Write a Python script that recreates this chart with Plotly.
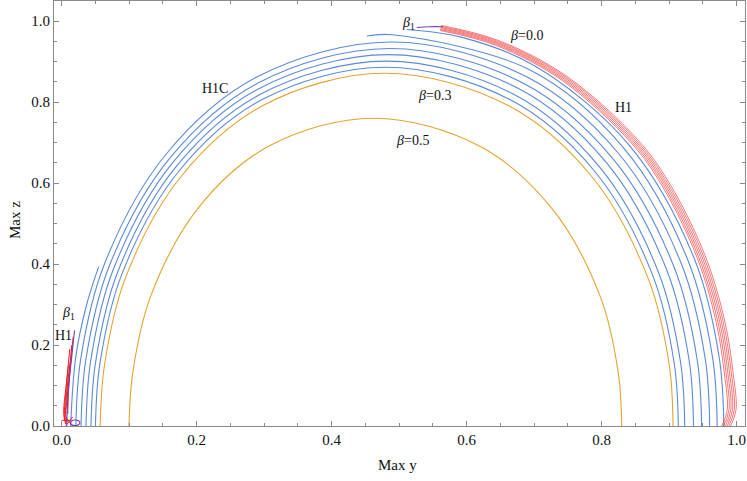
import plotly.graph_objects as go

# ---------------- data ----------------
# orange contours
beta05_x = [0.0997, 0.1053, 0.1320, 0.2030, 0.3080, 0.4620, 0.6180, 0.7250, 0.7975, 0.8245, 0.8296]
beta05_z = [0, 0.1319, 0.3212, 0.5400, 0.6920, 0.760, 0.6920, 0.5400, 0.3212, 0.1319, 0]
beta03_x = [0.057, 0.0635, 0.0950, 0.1780, 0.2995, 0.4780, 0.6600, 0.7840, 0.8680, 0.9000, 0.9057]
beta03_z = [0, 0.1512, 0.3681, 0.6185, 0.7925, 0.871, 0.7925, 0.6185, 0.3681, 0.1512, 0]

# blue contours (full arcs)
blue1_x = [0.050, 0.0566, 0.0890, 0.1735, 0.2970, 0.4790, 0.6640, 0.7895, 0.8750, 0.9075, 0.9135]
blue1_z = [0, 0.1538, 0.3744, 0.6290, 0.8060, 0.886, 0.8060, 0.6290, 0.3744, 0.1538, 0]
blue2_x = [0.0434, 0.0501, 0.0831, 0.1692, 0.2950, 0.4805, 0.6690, 0.7967, 0.8838, 0.9169, 0.923]
blue2_z = [0, 0.1564, 0.3808, 0.6396, 0.8196, 0.901, 0.8196, 0.6396, 0.3808, 0.1564, 0]
blue3_x = [0.036, 0.0428, 0.0767, 0.1648, 0.2935, 0.4835, 0.6760, 0.8067, 0.8958, 0.9298, 0.936]
blue3_z = [0, 0.1592, 0.3875, 0.6509, 0.8341, 0.917, 0.8341, 0.6509, 0.3875, 0.1592, 0]
blue4_x = [0.0286, 0.0356, 0.0702, 0.1602, 0.2917, 0.4858, 0.6825, 0.8159, 0.9069, 0.9416, 0.948]
blue4_z = [0, 0.1618, 0.3939, 0.6615, 0.8477, 0.932, 0.8477, 0.6615, 0.3939, 0.1618, 0]
blue5_x = [0.021, 0.0281, 0.0635, 0.1555, 0.2898, 0.4880, 0.6888, 0.8250, 0.9180, 0.9535, 0.960]
blue5_z = [0, 0.1646, 0.4006, 0.6728, 0.8622, 0.948, 0.8622, 0.6728, 0.4006, 0.1646, 0]

# blue contours (broken arcs)
blue6a_x = [0.0133, 0.0206, 0.037, 0.0547]
blue6a_z = [0, 0.1677, 0.30, 0.393]
blue6b_x = [0.452, 0.4900, 0.6946, 0.8330, 0.9280, 0.9644, 0.9711]
blue6b_z = [0.963, 0.966, 0.8785, 0.6856, 0.4082, 0.1677, 0]
blue7_x = [0.511, 0.5916, 0.6999, 0.8400, 0.9370, 0.9740, 0.981]
blue7_z = [0.979, 0.9602, 0.8900, 0.6950, 0.4141, 0.1701, 0]

# red H1 bundle on the right
red1_x = [0.5606, 0.6437, 0.7415, 0.8440, 0.8895, 0.9412, 0.9698, 0.9818, 0.986, 0.978]
red1_z = [0.9766, 0.9396, 0.8530, 0.6985, 0.5930, 0.4163, 0.2549, 0.1285, 0.04, 0]
red2_x = [0.5609, 0.6445, 0.7428, 0.8458, 0.8916, 0.9435, 0.9723, 0.9844, 0.9886, 0.9806]
red2_z = [0.9791, 0.9420, 0.8552, 0.7003, 0.5945, 0.4173, 0.2556, 0.1289, 0.04, 0]
red3_x = [0.5612, 0.6453, 0.7441, 0.8477, 0.8937, 0.9459, 0.9749, 0.9870, 0.9912, 0.9832]
red3_z = [0.9816, 0.9444, 0.8573, 0.7020, 0.5960, 0.4184, 0.2562, 0.1292, 0.04, 0]
red4_x = [0.5616, 0.6460, 0.7454, 0.8495, 0.8957, 0.9482, 0.9774, 0.9895, 0.9938, 0.9858]
red4_z = [0.9841, 0.9467, 0.8595, 0.7038, 0.5975, 0.4194, 0.2569, 0.1295, 0.04, 0]
red5_x = [0.5619, 0.6468, 0.7467, 0.8513, 0.8978, 0.9506, 0.9799, 0.9921, 0.9964, 0.9884]
red5_z = [0.9866, 0.9491, 0.8617, 0.7056, 0.5990, 0.4205, 0.2575, 0.1298, 0.04, 0]
red6_x = [0.5623, 0.6476, 0.7480, 0.8532, 0.8999, 0.9530, 0.9824, 0.9947, 0.999, 0.991]
red6_z = [0.9890, 0.9515, 0.8638, 0.7073, 0.6005, 0.4215, 0.2582, 0.1302, 0.04, 0]

# red H1 pieces on the left
redL1_x = [0.012, 0.008, 0.005, 0.004, 0.006]
redL1_z = [0.19, 0.12, 0.06, 0.02, 0.005]
redL2_x = [0.015, 0.011, 0.008, 0.006, 0.008]
redL2_z = [0.20, 0.13, 0.07, 0.03, 0.01]
redL3_x = [0.010, 0.006, 0.003, 0.004]
redL3_z = [0.15, 0.09, 0.04, 0.015]
redL4_x = [0.017, 0.013, 0.010, 0.009]
redL4_z = [0.22, 0.15, 0.08, 0.03]
redL5_x = [0.014, 0.009, 0.006, 0.005, 0.007]
redL5_z = [0.17, 0.11, 0.05, 0.02, 0.004]
redH_x = [0.0, 0.013]
redH_z = [0.014, 0.014]
redXa_x = [0.006, 0.016]
redXa_z = [0.022, 0.0]
redXb_x = [0.006, 0.016]
redXb_z = [0.0, 0.022]

# purple beta_1 pieces
purpL_x = [0.0074, 0.0098, 0.0148, 0.019]
purpL_z = [0, 0.09, 0.17, 0.236]
purpLoop_x = [0.013, 0.015, 0.020, 0.025, 0.027, 0.025, 0.020, 0.015, 0.013]
purpLoop_z = [0.008, 0.013, 0.015, 0.013, 0.008, 0.003, 0.001, 0.003, 0.008]
purpT_x = [0.526, 0.545, 0.565]
purpT_z = [0.984, 0.986, 0.986]

# text labels
label_text = ["H1C", "<i>β</i>=0.3", "<i>β</i>=0.5", "<i>β</i>=0.0", "H1",
              "<i>β</i><sub>1</sub>", "<i>β</i><sub>1</sub>", "H1"]
label_x = [0.227, 0.553, 0.520, 0.689, 0.832, 0.514, 0.0098, 0.0024]
label_z = [0.833, 0.8165, 0.705, 0.9646, 0.786, 0.9936, 0.2775, 0.224]

x_ticks = [0.0, 0.2, 0.4, 0.6, 0.8, 1.0]
z_ticks = [0.0, 0.2, 0.4, 0.6, 0.8, 1.0]

# ---------------- styling ----------------
BLUE = "#5b8bd6"
ORANGE = "#e3a42f"
RED = "rgb(238,30,30)"
PURPLE = "#7a3fb0"
SERIF = "Liberation Serif"

fig = go.Figure()

def add(x, z, color, width=1.1, shape="spline"):
    fig.add_trace(go.Scatter(x=x, y=z, mode="lines",
                             line=dict(color=color, width=width, shape=shape),
                             hoverinfo="skip", showlegend=False))

add(beta05_x, beta05_z, ORANGE)
add(beta03_x, beta03_z, ORANGE)
for bx, bz in [(blue1_x, blue1_z), (blue2_x, blue2_z), (blue3_x, blue3_z),
               (blue4_x, blue4_z), (blue5_x, blue5_z), (blue6a_x, blue6a_z),
               (blue6b_x, blue6b_z), (blue7_x, blue7_z)]:
    add(bx, bz, BLUE)
for rx, rz in [(red1_x, red1_z), (red2_x, red2_z), (red3_x, red3_z),
               (red4_x, red4_z), (red5_x, red5_z), (red6_x, red6_z)]:
    add(rx, rz, RED, width=0.6)
for rx, rz in [(redL1_x, redL1_z), (redL2_x, redL2_z), (redL3_x, redL3_z),
               (redL4_x, redL4_z), (redL5_x, redL5_z)]:
    add(rx, rz, RED, width=1.0)
for rx, rz in [(redH_x, redH_z), (redXa_x, redXa_z), (redXb_x, redXb_z)]:
    add(rx, rz, RED, width=1.0, shape="linear")
add(purpL_x, purpL_z, PURPLE)
add(purpLoop_x, purpLoop_z, PURPLE)
add(purpT_x, purpT_z, PURPLE)

for t, x, z in zip(label_text, label_x, label_z):
    fig.add_annotation(x=x, y=z, text=t, showarrow=False,
                       font=dict(family=SERIF, size=14, color="#111"))

# axis titles placed as paper annotations (plot area spans px 54..745, 1..426)
fig.add_annotation(xref="paper", yref="paper", x=0.4978, y=-0.0918, text="Max y",
                   xanchor="center", yanchor="middle",
                   showarrow=False, font=dict(family=SERIF, size=15, color="#111"))
fig.add_annotation(xref="paper", yref="paper", x=-0.0564, y=0.4847, text="Max z",
                   xanchor="center", yanchor="middle",
                   textangle=-90, showarrow=False, font=dict(family=SERIF, size=15, color="#111"))

axis_common = dict(showgrid=False, zeroline=False, showline=True, linecolor="#8a8a8a",
                   linewidth=1, mirror="ticks", ticks="inside", ticklen=5,
                   tickcolor="#8a8a8a", tickwidth=1, automargin=False,
                   ticklabeloverflow="allow",
                   minor=dict(dtick=0.05, ticks="inside", ticklen=3, tickcolor="#8a8a8a", tickwidth=1),
                   tickfont=dict(family=SERIF, size=15, color="#111"),
                   tickformat=".1f")

fig.update_xaxes(range=[-0.0114, 1.0123], tickvals=x_ticks, **axis_common)
fig.update_yaxes(range=[0, 1.0494], tickvals=z_ticks, **axis_common)

fig.update_layout(width=747, height=481, margin=dict(l=54, r=2, t=1, b=55, autoexpand=False),
                  plot_bgcolor="white", paper_bgcolor="white", showlegend=False)

fig.write_html("out.html", config={"displayModeBar": False},
               post_script="document.body.style.margin='0';document.body.style.overflow='hidden';")
